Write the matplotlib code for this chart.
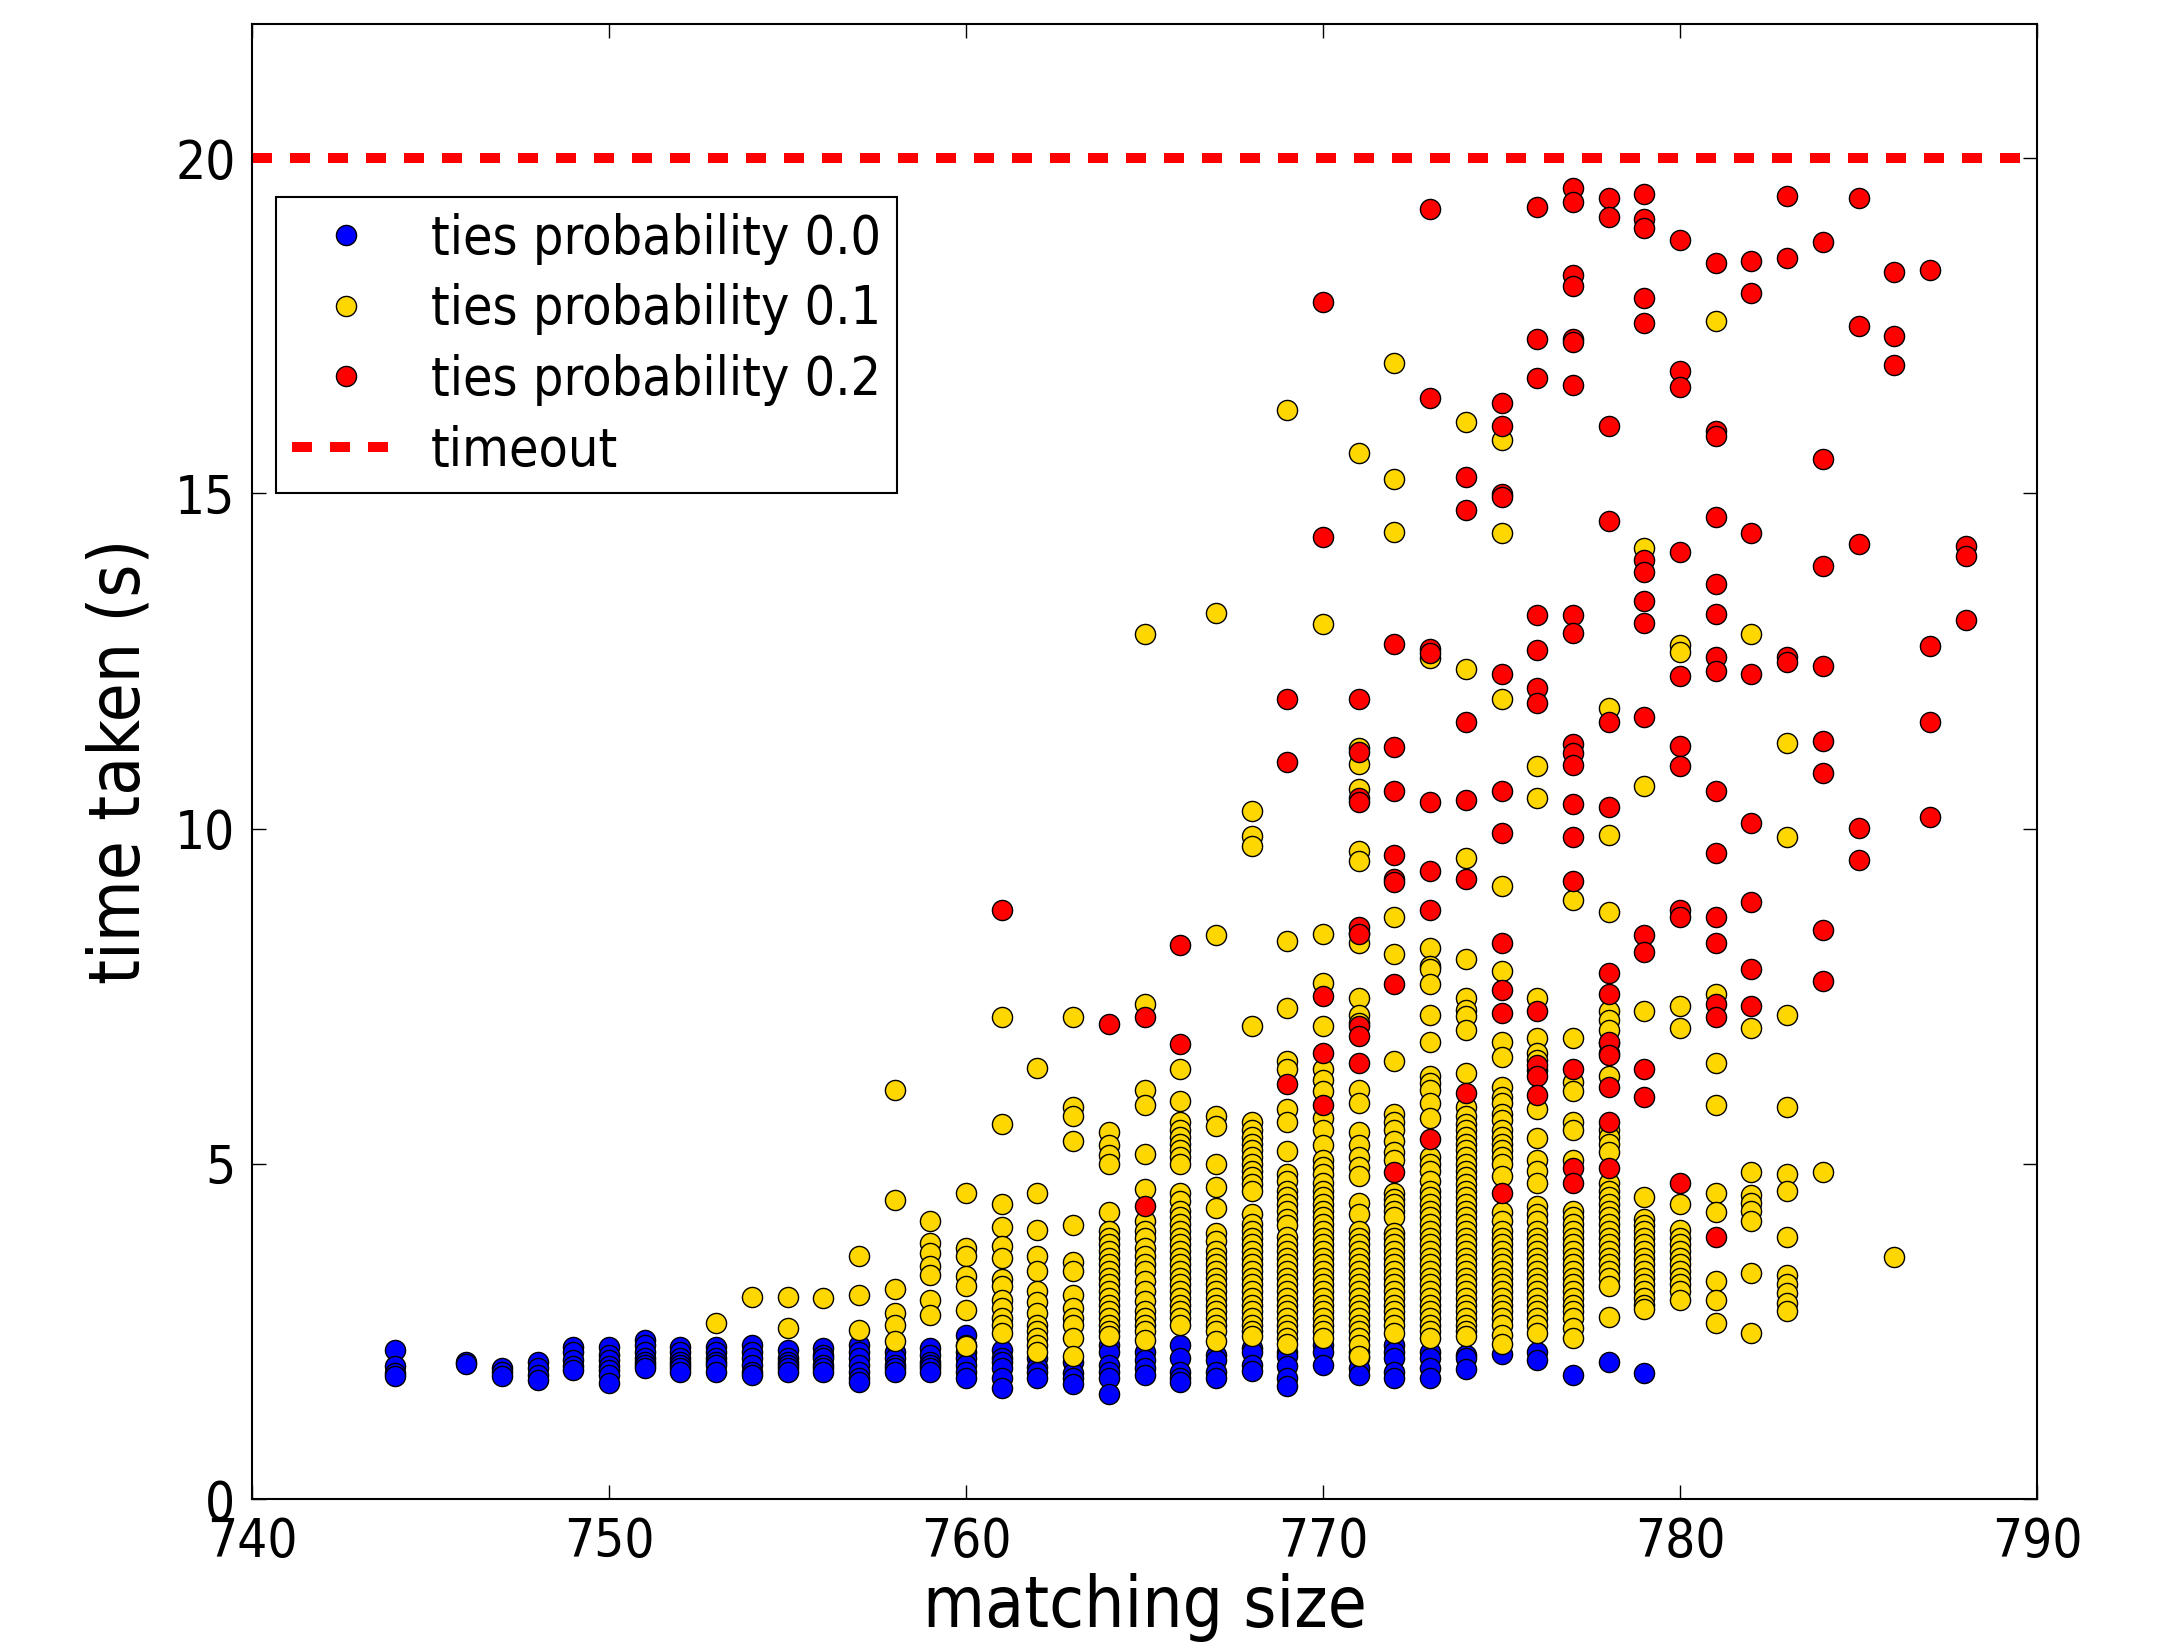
import matplotlib
matplotlib.use('Agg')
import matplotlib.pyplot as plt

plt.rcParams['font.family'] = ['DejaVu Sans']
plt.rcParams['font.stretch'] = 'condensed'

# ---------------- data ----------------
blue_sizes = [744, 746, 747, 748, 749, 750, 751, 752, 753, 754, 755, 756, 757, 758,
              759, 760, 761, 762, 763, 764, 765, 766, 767, 768, 769, 770, 771, 772,
              773, 774, 775, 776, 777, 778, 779]
blue_times = [
    [2.22, 1.98, 1.88, 1.83],
    [2.05, 2.02],
    [1.95, 1.9, 1.83],
    [2.05, 1.95, 1.85, 1.78],
    [2.27, 2.2, 2.07, 1.98, 1.93],
    [2.27, 2.15, 2.07, 1.98, 1.93, 1.85, 1.73],
    [2.37, 2.3, 2.2, 2.1, 2.05, 2.0, 1.95],
    [2.27, 2.2, 2.1, 2.05, 2.0, 1.95, 1.9],
    [2.27, 2.2, 2.1, 2.05, 2.0, 1.9],
    [2.3, 2.2, 2.1, 2.0, 1.9, 1.85],
    [2.22, 2.1, 2.05, 2.0, 1.95, 1.9],
    [2.25, 2.15, 2.1, 2.0, 1.95, 1.9],
    [2.3, 2.2, 2.1, 2.0, 1.9, 1.8, 1.75],
    [2.2, 2.1, 2.0, 1.95, 1.9],
    [2.25, 2.15, 2.05, 2.0, 1.95, 1.9],
    [2.45, 2.3, 2.2, 2.1, 2.0, 1.9, 1.8],
    [2.23, 2.1, 2.05, 1.95, 1.8, 1.66],
    [2.1, 1.97, 1.9, 1.8],
    [2.05, 1.88, 1.8, 1.71],
    [2.3, 2.2, 2.0, 1.9, 1.8, 1.57],
    [2.2, 2.08, 1.95, 1.85],
    [2.3, 2.1, 1.9, 1.8, 1.74],
    [2.15, 2.08, 1.9, 1.8],
    [2.25, 2.2, 2.0, 1.91],
    [2.2, 2.14, 1.98, 1.8, 1.68],
    [2.3, 2.2, 2.0],
    [2.2, 2.11, 1.95, 1.85],
    [2.3, 2.2, 2.1, 1.9, 1.8],
    [2.2, 2.1, 1.95, 1.8],
    [2.15, 2.11, 1.94],
    [2.17],
    [2.2, 2.08],
    [1.85],
    [2.05],
    [1.88],
]

yellow_sizes = [753, 754, 755, 756, 757, 758, 759, 760, 761, 762, 763, 764, 765, 766,
                767, 768, 769, 770, 771, 772, 773, 774, 775, 776, 777, 778, 779, 780,
                781, 782, 783, 784, 786]
yellow_times = [
    [2.62],
    [3.02],
    [3.02, 2.55],
    [3.0],
    [3.62, 3.05, 2.52],
    [6.1, 4.46, 3.14, 2.77, 2.6, 2.35],
    [4.14, 3.82, 3.67, 3.47, 3.34, 2.97, 2.75],
    [4.56, 3.74, 3.62, 3.32, 3.17, 2.82, 2.28],
    [7.19, 5.6, 4.4, 4.05, 3.77, 3.6, 3.28, 3.17, 2.97, 2.85, 2.7, 2.6, 2.48],
    [6.43, 4.57, 4.02, 3.62, 3.4, 3.11, 2.94, 2.77, 2.6, 2.5, 2.4, 2.3, 2.2],
    [7.19, 5.85, 5.71, 5.34, 4.08, 3.54, 3.4, 3.05, 2.85, 2.7, 2.6, 2.4, 2.14],
    [5.48, 5.28, 5.13, 4.99, 4.28, 4.0, 3.9, 3.8, 3.7, 3.6, 3.5, 3.4, 3.3, 3.2,
     3.1, 3.0, 2.9, 2.8, 2.7, 2.6, 2.5, 2.43],
    [12.9, 7.39, 6.1, 5.88, 5.14, 4.62, 4.14, 4.0, 3.9, 3.75, 3.62, 3.5, 3.4, 3.25,
     3.1, 2.95, 2.8, 2.7, 2.6, 2.5, 2.37],
    [6.42, 5.94, 5.62, 5.5, 5.4, 5.3, 5.2, 5.1, 4.99, 4.57, 4.45, 4.3, 4.2, 4.1,
     4.0, 3.9, 3.8, 3.7, 3.6, 3.5, 3.4, 3.3, 3.2, 3.1, 3.0, 2.9, 2.8, 2.7, 2.6],
    [13.22, 8.42, 5.71, 5.56, 4.99, 4.65, 4.34, 3.97, 3.85, 3.7, 3.6, 3.5, 3.4,
     3.3, 3.2, 3.1, 3.0, 2.9, 2.8, 2.7, 2.6, 2.5, 2.35],
    [10.26, 9.89, 9.74, 7.05, 5.62, 5.5, 5.4, 5.3, 5.2, 5.1, 5.0, 4.9, 4.8, 4.7,
     4.6, 4.25, 4.1, 4.0, 3.9, 3.8, 3.7, 3.6, 3.5, 3.4, 3.3, 3.2, 3.1, 3.0, 2.9,
     2.8, 2.7, 2.6, 2.5, 2.43],
    [16.24, 8.33, 7.33, 6.54, 6.42, 5.82, 5.62, 5.19, 4.85, 4.75, 4.6, 4.5, 4.4,
     4.3, 4.18, 4.08, 3.91, 3.8, 3.7, 3.6, 3.5, 3.4, 3.3, 3.2, 3.1, 3.0, 2.9, 2.8,
     2.7, 2.6, 2.5, 2.4, 2.31],
    [13.05, 8.43, 7.7, 7.05, 6.42, 6.25, 6.08, 5.68, 5.5, 5.28, 5.05, 4.95, 4.85,
     4.72, 4.6, 4.5, 4.4, 4.3, 4.2, 4.1, 4.0, 3.9, 3.8, 3.7, 3.6, 3.5, 3.4, 3.3,
     3.2, 3.1, 3.0, 2.9, 2.8, 2.7, 2.6, 2.5, 2.4],
    [15.6, 11.2, 10.96, 10.59, 9.66, 9.52, 8.45, 8.3, 7.48, 7.22, 7.1, 6.1, 5.9,
     5.48, 5.28, 5.1, 4.95, 4.82, 4.42, 4.25, 4.0, 3.9, 3.8, 3.7, 3.6, 3.5, 3.4,
     3.3, 3.2, 3.1, 3.0, 2.9, 2.8, 2.7, 2.6, 2.5, 2.4, 2.3, 2.14],
    [16.94, 15.21, 14.43, 8.68, 8.13, 6.54, 5.74, 5.62, 5.5, 5.34, 5.17, 5.05,
     4.57, 4.48, 4.4, 4.3, 4.2, 3.97, 3.9, 3.8, 3.7, 3.6, 3.5, 3.4, 3.3, 3.2, 3.1,
     3.0, 2.9, 2.8, 2.7, 2.6, 2.48],
    [12.54, 8.22, 7.95, 7.9, 7.68, 7.22, 6.82, 6.31, 6.2, 6.1, 5.9, 5.68, 5.1,
     5.0, 4.9, 4.75, 4.6, 4.5, 4.4, 4.3, 4.2, 4.1, 4.0, 3.9, 3.8, 3.7, 3.6, 3.5,
     3.4, 3.3, 3.2, 3.1, 3.0, 2.9, 2.8, 2.7, 2.6, 2.5, 2.4],
    [16.06, 12.38, 9.56, 8.05, 7.48, 7.3, 7.2, 6.99, 6.36, 5.85, 5.72, 5.6, 5.5,
     5.4, 5.3, 5.2, 5.1, 5.0, 4.9, 4.8, 4.7, 4.6, 4.5, 4.4, 4.3, 4.2, 4.1, 4.0,
     3.9, 3.8, 3.7, 3.6, 3.5, 3.4, 3.3, 3.2, 3.1, 3.0, 2.9, 2.8, 2.7, 2.6, 2.5,
     2.43],
    [15.8, 14.41, 11.93, 9.15, 7.88, 6.82, 6.6, 6.14, 6.0, 5.9, 5.75, 5.65, 5.5,
     5.4, 5.3, 5.2, 5.1, 5.0, 4.82, 4.28, 4.15, 4.0, 3.9, 3.8, 3.7, 3.6, 3.5, 3.4,
     3.3, 3.2, 3.1, 3.0, 2.9, 2.8, 2.7, 2.6, 2.45, 2.31],
    [10.94, 10.45, 7.48, 6.88, 6.65, 6.55, 6.4, 5.82, 5.39, 5.05, 4.9, 4.71, 4.37,
     4.25, 4.15, 4.0, 3.9, 3.8, 3.7, 3.6, 3.5, 3.4, 3.3, 3.2, 3.1, 3.0, 2.9, 2.8,
     2.7, 2.6, 2.48],
    [8.93, 6.88, 6.22, 6.08, 5.62, 5.5, 5.05, 4.3, 4.2, 4.1, 4.0, 3.9, 3.8, 3.7,
     3.6, 3.5, 3.4, 3.3, 3.2, 3.1, 3.0, 2.9, 2.8, 2.7, 2.55, 2.4],
    [11.8, 9.9, 8.75, 7.28, 7.15, 7.0, 6.8, 6.65, 6.31, 5.5, 5.4, 5.3, 5.17, 4.71,
     4.6, 4.5, 4.4, 4.3, 4.2, 4.1, 4.0, 3.9, 3.8, 3.7, 3.6, 3.5, 3.4, 3.3, 3.17,
     2.71],
    [14.18, 10.63, 7.28, 4.51, 4.17, 4.08, 4.0, 3.9, 3.8, 3.7, 3.6, 3.5, 3.4, 3.3,
     3.2, 3.1, 3.0, 2.9, 2.83],
    [12.74, 12.64, 7.36, 7.02, 4.4, 4.02, 3.9, 3.8, 3.7, 3.6, 3.5, 3.4, 3.3, 3.2,
     3.1, 2.97],
    [17.57, 7.53, 6.51, 5.88, 4.57, 4.28, 3.25, 2.97, 2.63],
    [12.9, 7.02, 4.88, 4.54, 4.42, 4.3, 4.14, 3.37, 2.48],
    [11.28, 9.87, 7.22, 5.85, 4.85, 4.6, 3.91, 3.34, 3.2, 3.08, 2.92, 2.8],
    [4.88],
    [3.61],
]

red_sizes = [761, 764, 765, 766, 769, 770, 771, 772, 773, 774, 775, 776, 777, 778,
             779, 780, 781, 782, 783, 784, 785, 786, 787, 788]
red_times = [
    [8.78],
    [7.09],
    [7.19, 4.37],
    [8.26, 6.78],
    [11.94, 11.0, 6.19],
    [17.86, 14.35, 7.5, 6.65, 5.88],
    [11.94, 11.14, 10.46, 10.4, 8.53, 8.43, 7.05, 6.9, 6.5],
    [12.76, 11.21, 10.56, 9.6, 9.25, 9.2, 7.68, 4.88],
    [19.24, 16.42, 12.68, 12.62, 10.4, 9.37, 8.78, 5.37],
    [15.25, 14.75, 11.59, 10.42, 9.25, 6.05],
    [16.35, 16.0, 14.99, 14.95, 12.31, 10.56, 9.94, 8.29, 7.59, 7.25, 4.57],
    [19.27, 17.3, 16.72, 13.18, 12.66, 12.1, 11.88, 7.28, 6.48, 6.31, 6.02],
    [19.56, 19.34, 18.25, 18.1, 17.3, 17.26, 16.61, 13.18, 12.91, 11.26, 11.12,
     10.95, 10.36, 9.87, 9.22, 6.42, 4.94, 4.71],
    [19.41, 19.12, 16.0, 14.59, 11.59, 10.32, 7.85, 7.53, 6.82, 6.62, 6.14, 5.62,
     4.94],
    [19.47, 19.09, 18.96, 17.92, 17.54, 14.01, 13.83, 13.4, 13.07, 11.66, 8.42,
     8.16, 6.42, 5.99],
    [18.78, 16.83, 16.58, 14.13, 12.27, 11.23, 10.94, 8.79, 8.68, 4.71],
    [18.44, 15.93, 15.85, 14.65, 13.65, 13.2, 12.56, 12.35, 10.56, 9.64, 8.68,
     8.29, 7.39, 7.19, 3.91],
    [18.47, 17.99, 14.41, 12.31, 10.08, 8.9, 7.9, 7.36],
    [19.43, 18.51, 12.56, 12.49],
    [18.75, 15.51, 13.92, 12.42, 11.31, 10.83, 8.49, 7.73],
    [19.4, 17.5, 14.24, 10.01, 9.53],
    [18.3, 17.34, 16.92],
    [18.33, 12.73, 11.59, 10.18],
    [14.21, 14.06, 13.11],
]

timeout = 20
x_ticks = [740, 750, 760, 770, 780, 790]
y_ticks = [0, 5, 10, 15, 20]


def flatten(sizes, times):
    xs, ys = [], []
    for s, ts in zip(sizes, times):
        for t in ts:
            xs.append(s)
            ys.append(t)
    return xs, ys


# ---------------- figure ----------------
fig = plt.figure(figsize=(21.6, 16.48), dpi=100)
ax = fig.add_axes([0.1167, 0.0904, 0.8264, 0.895])

ms = 14.5
series = [
    (blue_sizes, blue_times, '#0000ff', 'ties probability 0.0'),
    (yellow_sizes, yellow_times, '#ffd700', 'ties probability 0.1'),
    (red_sizes, red_times, '#ff0000', 'ties probability 0.2'),
]
for sizes, times, col, lab in series:
    xs, ys = flatten(sizes, times)
    ax.plot(xs, ys, 'o', color=col, mec='black', mew=1.0, ms=ms, label=lab,
            linestyle='none')

ax.axhline(timeout, color='#ff0000', lw=7.2, linestyle=(0, (2.0, 1.8)),
           label='timeout')

ax.set_xlim(740, 790)
ax.set_ylim(0, 22)
ax.set_xticks(x_ticks)
ax.set_yticks(y_ticks)
ax.tick_params(direction='in', length=10, width=1, top=True, right=True,
               labelsize=38, pad=12)
for sp in ax.spines.values():
    sp.set_linewidth(1.5)

ax.set_xlabel('matching size', fontsize=51, labelpad=4)
ax.set_ylabel('time taken (s)', fontsize=51)
ax.yaxis.set_label_coords(-0.0549, 0.5)

leg = ax.legend(loc='upper left', bbox_to_anchor=(0.0134, 0.883),
                borderaxespad=0, fontsize=38.5, numpoints=1, fancybox=False,
                framealpha=1, edgecolor='black', handlelength=2.0,
                handletextpad=0.6, borderpad=0.3, labelspacing=0.35)
leg.get_frame().set_linewidth(1.5)

fig.savefig('out.png', dpi=100)
